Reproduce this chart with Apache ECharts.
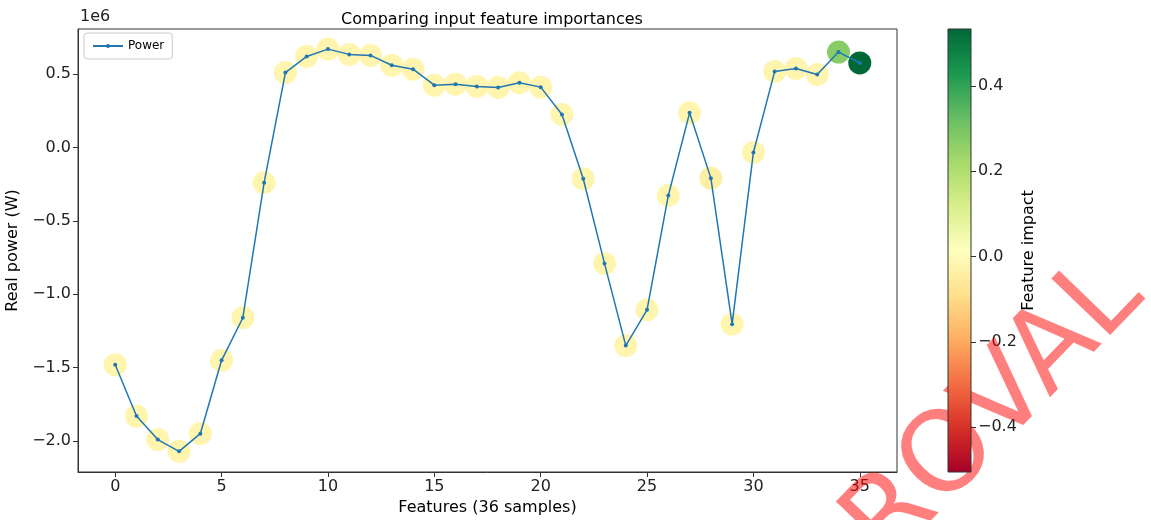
<!DOCTYPE html>
<html>
<head>
<meta charset="utf-8">
<script src="https://cdn.jsdelivr.net/npm/echarts@6/dist/echarts.min.js"></script>
<style>
html,body{margin:0;padding:0;background:#fff;}
#chart{width:1151px;height:520px;}
</style>
</head>
<body>
<div id="chart"></div>
<script>
// ---- data ----
const features = [0,1,2,3,4,5,6,7,8,9,10,11,12,13,14,15,16,17,18,19,20,21,22,23,24,25,26,27,28,29,30,31,32,33,34,35];
const power = [-1480000,-1830000,-1990000,-2070000,-1950000,-1450000,-1160000,-240000,510000,620000,670000,634000,627000,560000,533000,424000,431000,416000,409000,441000,411000,225000,-213000,-790000,-1350000,-1106000,-327000,236000,-209000,-1204000,-34000,518000,538000,497000,650000,576000];
const impact = [-0.02,-0.02,-0.02,-0.02,-0.02,-0.02,-0.02,-0.02,-0.02,-0.02,-0.02,-0.02,-0.02,-0.02,-0.02,-0.02,-0.02,-0.02,-0.02,-0.02,-0.02,-0.02,-0.02,-0.02,-0.02,-0.02,-0.02,-0.02,-0.04,-0.02,-0.02,-0.02,-0.02,-0.02,0.27,0.533];
const xTicks = [0,5,10,15,20,25,30,35];
const yTicks = [-2000000,-1500000,-1000000,-500000,0,500000];
const cbTicks = [-0.4,-0.2,0.0,0.2,0.4];
const impactRange = [-0.505, 0.533];
const rdYlGn = ['#a50026','#d73027','#f46d43','#fdae61','#fee08b','#ffffbf','#d9ef8b','#a6d96a','#66bd63','#1a9850','#006837'];

const FONT = 'DejaVu Sans';
const minus = s => s.replace('-', '\u2212');

const chart = echarts.init(document.getElementById('chart'), null, {renderer:'canvas'});

const cbStops = rdYlGn.map((c,i)=>({offset:i/(rdYlGn.length-1), color:c}));

const option = {
  backgroundColor:'#fff',
  animation:false,
  textStyle:{fontFamily:FONT},
  title:{
    text:'Comparing input feature importances',
    left:487, top:7, textAlign:'center',
    textStyle:{fontFamily:FONT, fontSize:16, fontWeight:'normal', color:'#000'}
  },
  legend:{
    data:['Power'],
    left:84, top:33,
    orient:'vertical',
    itemWidth:30, itemHeight:5,
    padding:[7,8,7,8],
    borderColor:'#cccccc', borderWidth:1, borderRadius:3,
    backgroundColor:'#fff',
    textStyle:{fontFamily:FONT, fontSize:12, color:'#000'}
  },
  grid:[
    {left:78, right:254, top:29, bottom:48, show:true, outerBoundsMode:'none', containLabel:false,
     borderColor:'#333', borderWidth:1, backgroundColor:'transparent'},
    {left:948, width:23, top:29, height:443, show:true, outerBoundsMode:'none', containLabel:false, z:5,
     borderColor:'#333', borderWidth:1,
     backgroundColor:new echarts.graphic.LinearGradient(0,1,0,0,cbStops)}
  ],
  xAxis:[
    {type:'value', gridIndex:0, min:-1.75, max:36.75,
     name:'Features (36 samples)', nameLocation:'middle', nameGap:25,
     nameTextStyle:{fontFamily:FONT, fontSize:16, color:'#000', verticalAlign:'top'},
     axisLine:{show:true, onZero:false, lineStyle:{color:'#333'}},
     axisTick:{show:true, length:5, customValues:xTicks, lineStyle:{color:'#333'}},
     axisLabel:{customValues:xTicks, fontFamily:FONT, fontSize:16, color:'#222', margin:7},
     splitLine:{show:false}},
    {type:'value', gridIndex:1, show:false, min:0, max:1}
  ],
  yAxis:[
    {type:'value', gridIndex:0, min:-2211000, max:807000,
     name:'Real power (W)', nameLocation:'middle', nameGap:53, nameRotate:90,
     nameTextStyle:{fontFamily:FONT, fontSize:16, color:'#000'},
     axisLine:{show:true, onZero:false, lineStyle:{color:'#333'}},
     axisTick:{show:true, length:5, customValues:yTicks, lineStyle:{color:'#333'}},
     axisLabel:{customValues:yTicks, fontFamily:FONT, fontSize:16, color:'#222', margin:7,
       formatter:v=>minus((v/1e6).toFixed(1))},
     splitLine:{show:false}},
    {type:'value', gridIndex:1, min:impactRange[0], max:impactRange[1], position:'right',
     name:'Feature impact', nameLocation:'middle', nameGap:50, nameRotate:90,
     nameTextStyle:{fontFamily:FONT, fontSize:16, color:'#000'},
     axisLine:{show:false, onZero:false},
     axisTick:{show:true, length:5, customValues:cbTicks, lineStyle:{color:'#333'}},
     axisLabel:{customValues:cbTicks, fontFamily:FONT, fontSize:16, color:'#222', margin:7,
       formatter:v=>minus(v.toFixed(1))},
     splitLine:{show:false}}
  ],
  visualMap:{
    show:false, type:'continuous', seriesIndex:0, dimension:2,
    min:impactRange[0], max:impactRange[1],
    inRange:{color:rdYlGn}
  },
  graphic:[
    {type:'text', left:80, top:9, style:{text:'1e6', fontFamily:FONT, fontSize:16, fill:'#222'}},
    {type:'text', x:922, y:488, rotation:46*Math.PI/180, z:1,
     style:{text:'APPROVAL', fontFamily:FONT, fontSize:112, fill:'rgba(255,0,0,0.5)', align:'center', verticalAlign:'middle'}}
  ],
  series:[
    {type:'scatter', name:'impact', xAxisIndex:0, yAxisIndex:0, symbolSize:23, z:1,
     itemStyle:{opacity:1},
     data:features.map((f,i)=>[f, power[i], impact[i]])},
    {type:'line', name:'Power', xAxisIndex:0, yAxisIndex:0, z:3,
     symbol:'circle', symbolSize:4, showSymbol:true,
     lineStyle:{color:'#1f77b4', width:1.5},
     itemStyle:{color:'#1f77b4'},
     data:features.map((f,i)=>[f, power[i]])},
    {type:'line', xAxisIndex:1, yAxisIndex:1, data:[], silent:true}
  ]
};
chart.setOption(option);
</script>
</body>
</html>
